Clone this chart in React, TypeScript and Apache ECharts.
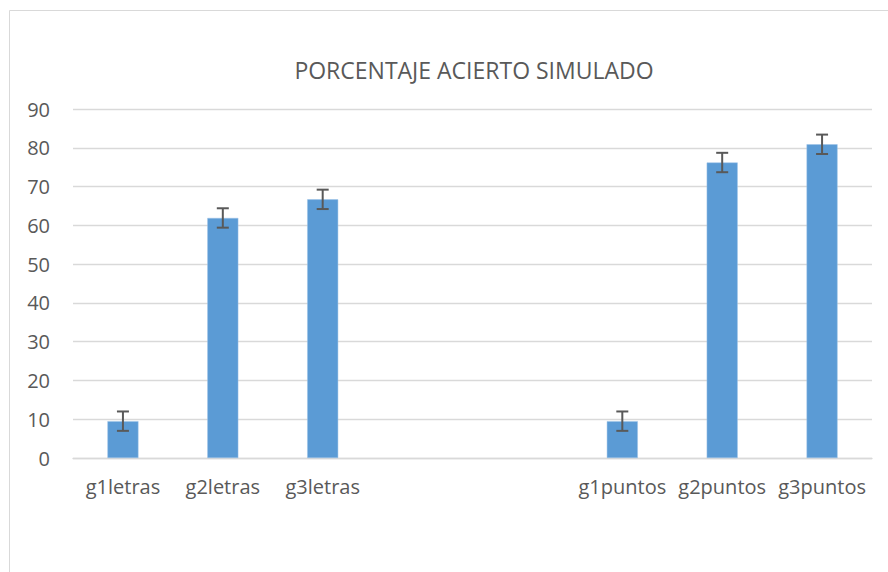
import React, { useEffect, useRef } from "react";
import * as echarts from "echarts";

const categories = ["g1letras", "g2letras", "g3letras", "", "", "g1puntos", "g2puntos", "g3puntos"];
const values: (number | null)[] = [9.5, 61.9, 66.7, null, null, 9.5, 76.2, 80.9];
const errors: (number | null)[] = [2.5, 2.5, 2.5, null, null, 2.5, 2.5, 2.5];
const yTicks = { min: 0, max: 90, interval: 10 };
const title = "PORCENTAJE ACIERTO SIMULADO";

export default function App() {
  const ref = useRef<HTMLDivElement>(null);
  useEffect(() => {
    if (!ref.current) return;
    const chart = echarts.init(ref.current, null, { renderer: "svg" });
    const errData = values
      .map((v, i) => (v == null || errors[i] == null ? null : [i, v - (errors[i] as number), v + (errors[i] as number)]))
      .filter((d) => d != null);
    chart.setOption({
      animation: false,
      textStyle: { fontFamily: "Open Sans" },
      title: {
        text: title,
        top: 53,
        left: 469,
        textAlign: "center",
        textStyle: { fontFamily: "Open Sans", fontSize: 23, fontWeight: "normal", color: "#595959" },
      },
      graphic: [
        {
          type: "rect",
          shape: { x: 9.5, y: 10.5, width: 900, height: 600 },
          style: { fill: "none", stroke: "#d9d9d9", lineWidth: 1 },
          silent: true,
        },
      ],
      grid: { left: 73, right: 16, top: 109, bottom: 114, containLabel: false },
      xAxis: {
        type: "category",
        data: categories,
        axisLine: { show: true, lineStyle: { color: "#d9d9d9", width: 1.3 } },
        axisTick: { show: false },
        axisLabel: { color: "#595959", fontSize: 20, fontFamily: "Open Sans", margin: 18, interval: 0 },
      },
      yAxis: {
        type: "value",
        min: yTicks.min,
        max: yTicks.max,
        interval: yTicks.interval,
        axisLine: { show: false },
        axisTick: { show: false },
        splitLine: { lineStyle: { color: "#d9d9d9", width: 1.3 } },
        axisLabel: { color: "#595959", fontSize: 20, fontFamily: "Open Sans", margin: 23 },
      },
      series: [
        {
          type: "bar",
          data: values,
          barWidth: 31,
          itemStyle: { color: "#5B9BD5", borderColor: "#9dc3e6", borderWidth: 0.5 },
        },
        {
          type: "custom",
          data: errData,
          z: 10,
          renderItem: (params: any, api: any) => {
            const x = api.coord([api.value(0), 0])[0];
            const lo = api.coord([api.value(0), api.value(1)])[1];
            const hi = api.coord([api.value(0), api.value(2)])[1];
            const half = 6;
            const style = { stroke: "#595959", lineWidth: 2 };
            return {
              type: "group",
              children: [
                { type: "line", shape: { x1: x, y1: lo, x2: x, y2: hi }, style },
                { type: "line", shape: { x1: x - half, y1: lo, x2: x + half, y2: lo }, style },
                { type: "line", shape: { x1: x - half, y1: hi, x2: x + half, y2: hi }, style },
              ],
            };
          },
        },
      ],
    });
    return () => chart.dispose();
  }, []);
  return <div ref={ref} style={{ width: 888, height: 572, position: "absolute", left: 0, top: 0, background: "#fff" }} />;
}
